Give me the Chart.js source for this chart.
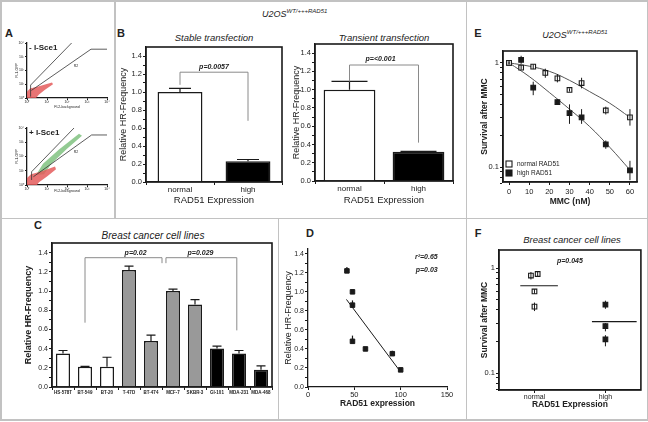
<!DOCTYPE html>
<html>
<head>
<meta charset="utf-8">
<script src="https://cdn.jsdelivr.net/npm/chart.js@4.4.1/dist/chart.umd.min.js"></script>
<style>
body { margin: 0; background: #fff; }
#fig { position: relative; width: 648px; height: 422px; overflow: hidden; font-family: "Liberation Sans", Arial, sans-serif; color: #222; }
#fig canvas { position: absolute; }
.sep { position: absolute; background: #c2c2c2; }
.t { position: absolute; white-space: nowrap; line-height: 1; transform: translate(-50%, -50%); }
.l { transform: translate(0, -50%); }
.let { font-weight: bold; font-size: 11px; }
.ttl { font-style: italic; font-size: 9.5px; }
sup { font-size: 6px; vertical-align: 4px; }
</style>
</head>
<body>
<div id="fig">
  <div class="sep" style="left:0;top:0;width:648px;height:1.5px"></div>
  <div class="sep" style="left:0;top:419px;width:648px;height:1.5px"></div>
  <div class="sep" style="left:0;top:0;width:1.5px;height:421px"></div>
  <div class="sep" style="left:646.5px;top:0;width:1.5px;height:421px"></div>
  <div class="sep" style="left:114px;top:0;width:1.5px;height:218px"></div>
  <div class="sep" style="left:0;top:217.5px;width:648px;height:1.5px"></div>
  <div class="sep" style="left:277.5px;top:218px;width:1.5px;height:202px"></div>
  <div class="sep" style="left:465.5px;top:0;width:1.5px;height:421px"></div>

  <div class="t let" style="left:9px;top:33px">A</div>
  <div class="t let" style="left:121px;top:33px">B</div>
  <div class="t let" style="left:478px;top:33px">E</div>
  <div class="t let" style="left:38px;top:225px">C</div>
  <div class="t let" style="left:310px;top:233px">D</div>
  <div class="t let" style="left:478px;top:233px">F</div>

  <div class="t l ttl" style="left:262px;top:13px;font-size:9px">U2OS<sup>WT/+++RAD51</sup></div>
  <div class="t ttl" style="left:214px;top:38px">Stable transfection</div>
  <div class="t ttl" style="left:384px;top:38px">Transient transfection</div>
  <div class="t ttl" style="left:575px;top:34px;font-size:9px">U2OS<sup>WT/+++RAD51</sup></div>
  <div class="t ttl" style="left:153px;top:236px;font-size:10px">Breast cancer cell lines</div>
  <div class="t ttl" style="left:572px;top:240px">Breast cancer cell lines</div>
</div>
<script>
// ---- data ----
const expressionGroups = ['normal', 'high'];
const stableHR = [1.0, 0.23];
const stableErr = [0.04, 0.02];
const transientHR = [1.0, 0.32];
const transientErr = [0.09, 0.005];
const hrMajor = [0, 0.2, 0.4, 0.6, 0.8, 1.0, 1.2, 1.4];
const hrMinor = [0.1, 0.3, 0.5, 0.7, 0.9, 1.1, 1.3];

const cellLines = ['HS-578T', 'BT-549', 'BT-20', 'T-47D', 'BT-474', 'MCF-7', 'SKBR-3', 'GI-101', 'MDA-231', 'MDA-468'];
const cellHR = [0.35, 0.21, 0.21, 1.22, 0.48, 1.0, 0.86, 0.40, 0.35, 0.18];
const cellErr = [0.03, 0.005, 0.10, 0.04, 0.06, 0.02, 0.05, 0.025, 0.03, 0.04];
const cellGroup = ['low', 'low', 'low', 'mid', 'mid', 'mid', 'mid', 'high', 'high', 'high'];

const rad51Expr = [42, 48, 48, 48, 62, 91, 100];
const rad51HR = [1.22, 1.0, 0.86, 0.48, 0.40, 0.35, 0.18];
const rad51Err = [0.04, 0.02, 0.05, 0.06, 0.02, 0.03, 0.02];
const rad51FitX = [41.5, 99];
const rad51FitY = [0.92, 0.17];
const exprTicks = [0, 50, 100, 150];

const mmcNormal = [0, 6, 12, 18, 24, 30, 36, 48, 60];
const survNormal = [1.0, 0.90, 0.92, 0.80, 0.71, 0.55, 0.64, 0.35, 0.30];
const survNormalHi = [1.05, 0.95, 0.97, 0.88, 0.78, 0.57, 0.72, 0.38, 0.36];
const survNormalLo = [0.96, 0.86, 0.87, 0.72, 0.65, 0.53, 0.57, 0.32, 0.25];
const mmcHigh = [0, 6, 12, 24, 30, 36, 48, 60];
const survHigh = [1.0, 1.07, 0.58, 0.42, 0.33, 0.30, 0.165, 0.093];
const survHighHi = [1.03, 1.17, 0.66, 0.45, 0.40, 0.36, 0.18, 0.115];
const survHighLo = [0.97, 0.98, 0.49, 0.40, 0.26, 0.26, 0.15, 0.075];
const fitDose = [0, 10, 20, 30, 40, 50, 60];
const fitNormal = [1.0, 0.93, 0.83, 0.68, 0.53, 0.41, 0.30];
const fitHigh = [1.0, 0.74, 0.52, 0.36, 0.245, 0.155, 0.094];
const mmcTicks = [0, 10, 20, 30, 40, 50, 60];
const survMajor = [0.1, 1];
const survMinor = [0.07, 0.08, 0.09, 0.2, 0.3, 0.4, 0.5, 0.6, 0.7, 0.8, 0.9];

const lineNormalPos = [-0.05, 0.045, 0, 0];
const lineNormalSurv = [0.85, 0.88, 0.60, 0.43];
const lineNormalHi = [0.92, 0.92, 0.63, 0.47];
const lineNormalLo = [0.78, 0.84, 0.57, 0.39];
const lineHighPos = [1, 1, 1];
const lineHighSurv = [0.45, 0.28, 0.21];
const lineHighHi = [0.49, 0.30, 0.23];
const lineHighLo = [0.41, 0.25, 0.18];
const meanNormalX = [-0.2, 0.33];
const meanNormalY = [0.68, 0.68];
const meanHighX = [0.81, 1.44];
const meanHighY = [0.31, 0.31];

// flow cytometry (log decades)
const decadeTicks = [0, 1, 2, 3, 4];
const decadeLabels = ['10⁰', '10¹', '10²', '10³', '10⁴'];
const gateR1Top = [[0.18, 0.1], [0.18, 0.94], [2.23, 4]];
const gateR2Top = [[0.22, 0.55], [3.2, 3.55], [4, 3.55]];
const redTop = [[0, 0], [0, 0.45], [0.15, 0.7], [0.6, 0.85], [1.25, 1.12], [1.3, 1.0], [0.9, 0.6], [0.6, 0.25], [0.45, 0]];
const gateR1Bot = [[0.23, 0.35], [0.23, 0.93], [2.35, 4]];
const gateR2Bot = [[0.32, 0.58], [3.23, 3.51], [4, 3.51]];
const redBot = [[0, 0], [0, 0.5], [0.2, 0.75], [0.7, 0.95], [1.4, 1.3], [1.45, 1.1], [1.0, 0.6], [0.6, 0.2], [0.5, 0]];
const greenBot = [[0.45, 0.7], [0.8, 1.5], [1.6, 2.5], [2.6, 3.6], [2.75, 3.45], [2.0, 2.55], [1.2, 1.45], [0.85, 0.75]];

// ---- helpers ----
const INK = '#1a1a1a';
const FONT = '"Liberation Sans", Arial, sans-serif';
Chart.defaults.font.family = FONT;
Chart.defaults.color = '#222';
Chart.defaults.animation = false;
Chart.defaults.plugins.legend.display = false;
Chart.defaults.plugins.tooltip.enabled = false;

const fig = document.getElementById('fig');
const xy = (xs, ys) => xs.map((x, i) => ({x: x, y: ys[i]}));
const near = (arr, v) => arr.some(m => Math.abs(m - v) < 1e-9);

function ax(o) {
  const a = {
    type: o.type || 'linear',
    bounds: 'data',
    border: {display: o.border !== false, color: INK, width: 1.3},
    grid: {drawOnChartArea: false, drawTicks: true, tickLength: o.tl || 3, tickWidth: 1, tickColor: INK},
    ticks: {font: o.font || {size: 7.5}, color: '#222', padding: o.pad || 0, autoSkip: false, maxRotation: 0, minRotation: 0},
    title: {display: !!o.title, text: o.title || '', font: o.tfont || {size: 9}, color: '#222', padding: o.tpad || 0}
  };
  if (o.min !== undefined) a.min = o.min;
  if (o.max !== undefined) a.max = o.max;
  if (o.cb) a.ticks.callback = o.cb;
  if (o.ticks) a.afterBuildTicks = s => { s.ticks = o.ticks.map(v => ({value: v})); };
  return a;
}

function deco(o) {
  return {
    id: 'deco',
    beforeDatasetsDraw(chart) {
      const {ctx, scales: {x, y}} = chart;
      (o.clouds || []).forEach(c => {
        ctx.save();
        ctx.beginPath();
        c.pts.forEach((q, i) => {
          const px = x.getPixelForValue(q[0]), py = y.getPixelForValue(q[1]);
          if (i) ctx.lineTo(px, py); else ctx.moveTo(px, py);
        });
        ctx.closePath();
        ctx.fillStyle = c.color;
        ctx.fill();
        ctx.restore();
      });
    },
    afterDatasetsDraw(chart) {
      const {ctx, chartArea: ca, scales: {x, y}} = chart;
      ctx.save();
      (o.err || []).forEach(e => {
        const meta = chart.getDatasetMeta(e.ds);
        meta.data.forEach((el, i) => {
          const top = y.getPixelForValue(e.hi[i]);
          const bot = e.lo ? y.getPixelForValue(e.lo[i]) : el.y;
          ctx.strokeStyle = e.color || INK;
          ctx.lineWidth = e.w || 1.2;
          ctx.beginPath();
          ctx.moveTo(el.x, bot);
          ctx.lineTo(el.x, top);
          if (e.cap) { ctx.moveTo(el.x - e.cap / 2, top); ctx.lineTo(el.x + e.cap / 2, top); }
          ctx.stroke();
        });
      });
      (o.lines || []).forEach(l => {
        ctx.strokeStyle = l.color || '#8a8a8a';
        ctx.lineWidth = l.w || 1;
        ctx.beginPath();
        l.pts.forEach((q, i) => {
          const px = x.getPixelForValue(q[0]), py = y.getPixelForValue(q[1]);
          if (i) ctx.lineTo(px, py); else ctx.moveTo(px, py);
        });
        ctx.stroke();
      });
      if (o.frame) {
        ctx.strokeStyle = INK;
        ctx.lineWidth = o.frame;
        ctx.strokeRect(ca.left, ca.top, ca.right - ca.left, ca.bottom - ca.top);
      }
      (o.texts || []).forEach(t => {
        ctx.font = t.font;
        ctx.fillStyle = t.color || '#222';
        ctx.textAlign = t.align || 'center';
        ctx.textBaseline = 'middle';
        const px = t.px !== undefined ? ca.left + t.px : x.getPixelForValue(t.x);
        const py = t.py !== undefined ? ca.top + t.py : y.getPixelForValue(t.y);
        ctx.fillText(t.text, px, py);
      });
      (o.keys || []).forEach(k => {
        const kx = ca.left + k.dx, ky = ca.bottom + k.dy;
        ctx.fillStyle = k.filled ? INK : '#fff';
        ctx.strokeStyle = INK;
        ctx.lineWidth = 1.1;
        ctx.fillRect(kx - 3, ky - 3, 6, 6);
        ctx.strokeRect(kx - 3, ky - 3, 6, 6);
        ctx.fillStyle = '#222';
        ctx.font = '6.5px ' + FONT;
        ctx.textAlign = 'left';
        ctx.textBaseline = 'middle';
        ctx.fillText(k.text, kx + 8, ky);
      });
      ctx.restore();
    }
  };
}

// rect = canvas box, plot = chart area box, both in page pixels
function mk(rect, plot, cfg, d) {
  const c = document.createElement('canvas');
  c.width = rect[2] - rect[0];
  c.height = rect[3] - rect[1];
  c.style.left = rect[0] + 'px';
  c.style.top = rect[1] + 'px';
  fig.appendChild(c);
  cfg.options.responsive = false;
  cfg.options.devicePixelRatio = 1;
  cfg.options.layout = {padding: {left: 0, top: plot[1] - rect[1], right: rect[2] - plot[2], bottom: 0}};
  cfg.options.scales.x.afterFit = s => { s.height = rect[3] - plot[3]; };
  cfg.options.scales.y.afterFit = s => { s.width = plot[0] - rect[0]; };
  cfg.plugins = [deco(d || {})];
  return new Chart(c, cfg);
}

const hrTicks = hrMajor.concat(hrMinor).sort((a, b) => a - b);
const hrLabel = v => near(hrMajor, v) ? v.toFixed(1) : '';
const survLabel = v => near(survMajor, v) ? String(v) : '';
const pFont = 'italic bold 7px ' + FONT;

// ---- A: flow cytometry ----
function flow(rect, plot, gates, clouds, tag) {
  mk(rect, plot, {
    type: 'scatter',
    data: {datasets: gates.map(g => ({data: g.map(q => ({x: q[0], y: q[1]})), showLine: true, pointRadius: 0, borderColor: '#333', borderWidth: 0.8}))},
    options: {
      scales: {
        x: ax({min: 0, max: 4, ticks: decadeTicks, cb: v => decadeLabels[v], font: {size: 3.5}, tl: 2, pad: 0, title: 'FL2-background', tfont: {size: 3.5}, tpad: {bottom: 3}}),
        y: ax({min: 0, max: 4, ticks: decadeTicks, cb: v => decadeLabels[v], font: {size: 3.5}, tl: 2, pad: 1, title: 'FL1-GFP', tfont: {size: 3.5}, tpad: {top: 3}})
      }
    }
  }, {
    clouds: clouds,
    texts: [
      {x: 2.45, y: 2.3, text: 'R2', font: '3.5px ' + FONT},
      {px: 2, py: 5, text: tag, font: 'bold 8px ' + FONT, align: 'left'}
    ]
  });
}
flow([12, 36, 112, 112], [27, 43, 107, 98], [gateR1Top, gateR2Top], [{pts: redTop, color: 'rgba(228,92,92,0.85)'}], '- I-Sce1');
flow([12, 122, 112, 196], [27, 128, 107, 185], [gateR1Bot, gateR2Bot],
  [{pts: greenBot, color: 'rgba(120,190,120,0.8)'}, {pts: redBot, color: 'rgba(228,92,92,0.85)'}], '+ I-Sce1');

// ---- B: stable / transient ----
function hrBars(rect, plot, vals, errs, bp, cap, bracket, ptext) {
  mk(rect, plot, {
    type: 'bar',
    data: {
      labels: expressionGroups,
      datasets: [{data: vals, backgroundColor: ['#ffffff', '#000000'], borderColor: INK, borderWidth: 1.5,
        categoryPercentage: 1, barPercentage: bp}]
    },
    options: {
      scales: {
        x: ax({type: 'category', font: {size: 8}, pad: 0, title: 'RAD51 Expression', tfont: {size: 9.5}, tpad: {bottom: 6}}),
        y: ax({min: 0, max: 1.5, ticks: hrTicks, cb: hrLabel, font: {size: 7.5}, pad: 1, title: 'Relative HR-Frequency', tfont: {size: 9}, tpad: {top: 2}})
      }
    }
  }, {
    frame: 1.6,
    err: [{ds: 0, hi: vals.map((v, i) => v + errs[i]), cap: cap}],
    lines: [{pts: bracket}],
    texts: [ptext]
  });
}
hrBars([116, 20, 290, 212], [146, 47, 282, 182], stableHR, stableErr, 0.66, 22,
  [[0, 1.08], [0, 1.22], [1, 1.22], [1, 0.68]], {x: 0.5, y: 1.28, text: 'p=0.0057', font: pFont});
hrBars([289, 20, 462, 212], [315, 44, 453, 181], transientHR, transientErr, 0.75, 36,
  [[0, 1.09], [0, 1.27], [1, 1.27], [1, 0.42]], {x: 0.45, y: 1.34, text: 'p=<0.001', font: pFont});

// ---- C: cell lines ----
const groupColor = {low: '#ffffff', mid: '#999999', high: '#000000'};
mk([18, 228, 276, 400], [52, 243, 272, 387], {
  type: 'bar',
  data: {
    labels: cellLines,
    datasets: [{data: cellHR, backgroundColor: cellGroup.map(g => groupColor[g]), borderColor: INK, borderWidth: 1.5,
      categoryPercentage: 1, barPercentage: 0.64}]
  },
  options: {
    scales: {
      x: ax({type: 'category', font: {size: 4.5, weight: 'bold'}, pad: 0}),
      y: ax({min: 0, max: 1.5, ticks: hrTicks, cb: hrLabel, font: {size: 7}, pad: 1, title: 'Relative HR-Frequency', tfont: {size: 9, weight: 'bold'}, tpad: {top: 5}})
    }
  }
}, {
  frame: 1.6,
  err: [{ds: 0, hi: cellHR.map((v, i) => v + cellErr[i]), cap: 9}],
  lines: [{pts: [[1, 0.67], [1, 1.347], [4.5, 1.347], [4.5, 1.29]]}, {pts: [[4.68, 1.29], [4.68, 1.347], [7.9, 1.347], [7.9, 0.59]]}],
  texts: [{x: 3.3, y: 1.395, text: 'p=0.02', font: pFont}, {x: 6.25, y: 1.395, text: 'p=0.029', font: pFont}]
});

// ---- D: correlation ----
mk([280, 228, 462, 416], [308, 249, 447, 387], {
  type: 'scatter',
  data: {
    datasets: [
      {data: xy(rad51Expr, rad51HR), pointStyle: 'rect', pointRadius: 3.2, backgroundColor: INK, borderColor: INK, borderWidth: 1},
      {data: xy(rad51FitX, rad51FitY), showLine: true, pointRadius: 0, borderColor: INK, borderWidth: 1}
    ]
  },
  options: {
    scales: {
      x: ax({min: 0, max: 150, ticks: exprTicks, font: {size: 7.5}, pad: 0, title: 'RAD51 expression', tfont: {size: 8.5, weight: 'bold'}, tpad: {bottom: 7}}),
      y: ax({min: 0, max: 1.45, ticks: hrTicks, cb: hrLabel, font: {size: 7}, pad: 1, title: 'Relative HR-Frequency', tfont: {size: 9}, tpad: {top: 3}})
    }
  }
}, {
  err: [{ds: 0, hi: rad51HR.map((v, i) => v + rad51Err[i]), cap: 0}],
  texts: [{x: 140, y: 1.37, text: 'r²=0.65', font: pFont, align: 'right'}, {x: 140, y: 1.23, text: 'p=0.03', font: pFont, align: 'right'}]
});

// ---- E: MMC survival ----
mk([472, 40, 646, 212], [503, 51, 637, 182], {
  type: 'scatter',
  data: {
    datasets: [
      {data: xy(mmcNormal, survNormal), pointStyle: 'rect', pointRadius: 3.3, backgroundColor: '#fff', borderColor: INK, borderWidth: 1.1},
      {data: xy(mmcHigh, survHigh), pointStyle: 'rect', pointRadius: 3.3, backgroundColor: INK, borderColor: INK, borderWidth: 1.1},
      {data: xy(fitDose, fitNormal), showLine: true, pointRadius: 0, borderColor: '#555', borderWidth: 1, tension: 0.4},
      {data: xy(fitDose, fitHigh), showLine: true, pointRadius: 0, borderColor: '#555', borderWidth: 1, tension: 0.4}
    ]
  },
  options: {
    scales: {
      x: ax({min: -3, max: 63.5, ticks: mmcTicks, font: {size: 7.5}, pad: 2, title: 'MMC (nM)', tfont: {size: 8.5, weight: 'bold'}, tpad: {bottom: 5}}),
      y: ax({type: 'logarithmic', min: 0.072, max: 1.3, ticks: survMajor.concat(survMinor), cb: survLabel, font: {size: 7.5}, pad: 1, title: 'Survival after MMC', tfont: {size: 8.5, weight: 'bold'}, tpad: {top: 8}})
    }
  }
}, {
  frame: 1.6,
  err: [{ds: 0, hi: survNormalHi, lo: survNormalLo, cap: 0, w: 1}, {ds: 1, hi: survHighHi, lo: survHighLo, cap: 0, w: 1}],
  keys: [{dx: 6, dy: -18, filled: false, text: 'normal RAD51'}, {dx: 6, dy: -9, filled: true, text: 'high RAD51'}]
});

// ---- F: cell line survival ----
mk([472, 228, 646, 416], [499, 250, 641, 390], {
  type: 'scatter',
  data: {
    datasets: [
      {data: xy(lineNormalPos, lineNormalSurv), pointStyle: 'rect', pointRadius: 3.3, backgroundColor: '#fff', borderColor: INK, borderWidth: 1.1},
      {data: xy(lineHighPos, lineHighSurv), pointStyle: 'rect', pointRadius: 3.3, backgroundColor: INK, borderColor: INK, borderWidth: 1.1},
      {data: xy(meanNormalX, meanNormalY), showLine: true, pointRadius: 0, borderColor: INK, borderWidth: 1.2},
      {data: xy(meanHighX, meanHighY), showLine: true, pointRadius: 0, borderColor: INK, borderWidth: 1.2}
    ]
  },
  options: {
    scales: {
      x: ax({min: -0.5, max: 1.5, ticks: [0, 1], cb: v => expressionGroups[v], font: {size: 7}, pad: 0, title: 'RAD51 Expression', tfont: {size: 8.5, weight: 'bold'}, tpad: {bottom: 6}}),
      y: ax({type: 'logarithmic', min: 0.069, max: 1.49, ticks: survMajor.concat(survMinor), cb: survLabel, font: {size: 7.5}, pad: 1, title: 'Survival after MMC', tfont: {size: 8.5, weight: 'bold'}, tpad: {top: 8}})
    }
  }
}, {
  frame: 1.6,
  err: [{ds: 0, hi: lineNormalHi, lo: lineNormalLo, cap: 0, w: 1}, {ds: 1, hi: lineHighHi, lo: lineHighLo, cap: 0, w: 1}],
  texts: [{x: 0.5, y: 1.18, text: 'p=0.045', font: pFont}]
});
</script>
</body>
</html>
